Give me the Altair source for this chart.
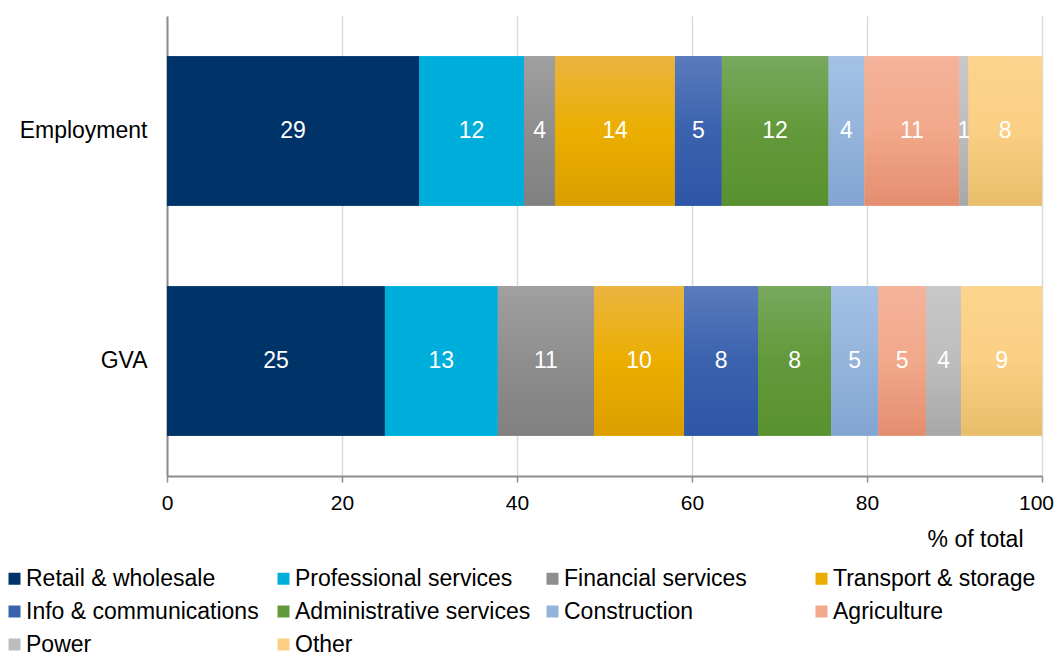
import altair as alt
import pandas as pd

sectors = ["Retail & wholesale", "Professional services", "Financial services", "Transport & storage",
           "Info & communications", "Administrative services", "Construction", "Agriculture", "Power", "Other"]
measures = ["Employment", "GVA"]
employment = [28.8, 12.0, 3.55, 13.7, 5.35, 12.2, 4.1, 10.85, 1.05, 8.4]
gva = [24.9, 12.9, 11.0, 10.3, 8.45, 8.35, 5.4, 5.45, 4.0, 9.25]
x_ticks = [0, 20, 40, 60, 80, 100]

colors_mid = ["#003468", "#00AEDB", "#8E8E8E", "#EBAE00", "#3A62AE", "#63993A", "#95B4DC", "#F2A88A", "#BDBDBD", "#FBCF84"]
colors_top = ["#003468", "#00AEDB", "#A0A0A0", "#EBB440", "#5A7BBD", "#78A85E", "#A4C1E5", "#F4B39A", "#C8C8C8", "#FDD48D"]
colors_bot = ["#003468", "#00AEDB", "#808080", "#DC9E00", "#2D56A6", "#5A9130", "#82A5D2", "#E48D70", "#A8A8A8", "#E8BD6A"]

FONT = "Liberation Sans"

rows = []
for m, vals in zip(measures, [employment, gva]):
    for i, (s, v) in enumerate(zip(sectors, vals)):
        rows.append({"measure": m, "sector": s, "value": v, "order": i})
df = pd.DataFrame(rows)

base = alt.Chart(df).transform_stack(
    stack="value", groupby=["measure"], as_=["x0", "x1"],
    sort=[alt.SortField("order", order="ascending")]
)

x_scale = alt.Scale(domain=[0, 100], nice=False)
y_scale = alt.Scale(domain=measures, paddingInner=0.35, paddingOuter=0.175)

x_axis = alt.Axis(
    values=x_ticks, format="d", title="% of total",
    titleFont=FONT, titleFontSize=23, titleFontWeight="normal", titleColor="black",
    titleX=856, titleY=70, titleAlign="right", titleBaseline="alphabetic", titleAnchor="end",
    labelFont=FONT, labelFontSize=21, labelColor="black", labelPadding=10, labelFlush=False,
    labelOffset={"condition": {"test": "datum.value === 100", "value": -6}, "value": 0},
    tickSize=6, tickColor="#8C8C8C", tickWidth=1.5,
    domainColor="#8C8C8C", domainWidth=2, gridColor="#D9D9D9", gridWidth=1.5,
)
y_axis = alt.Axis(
    title=None, labelFont=FONT, labelFontSize=23, labelColor="black",
    ticks=False, tickSize=0, labelPadding=20, domainColor="#8C8C8C", domainWidth=2, grid=False,
)

legend = alt.Legend(
    title=None, orient="none", legendX=-164, legendY=551, columns=4, direction="horizontal",
    symbolType="square", symbolSize=144, symbolStrokeWidth=0, symbolOpacity=1,
    labelFont=FONT, labelFontSize=23, labelColor="black", labelLimit=400, labelOffset=0,
    columnPadding=10, rowPadding=9, gridAlign="all",
)

legend_layer = base.mark_bar(strokeWidth=0).encode(
    x=alt.X("x0:Q", scale=x_scale, axis=x_axis),
    x2="x1:Q",
    y=alt.Y("measure:N", scale=y_scale, axis=y_axis, sort=measures),
    color=alt.Color("sector:N", scale=alt.Scale(domain=sectors, range=colors_mid), legend=legend),
)

grad_layers = []
for s, top, mid, bot in zip(sectors, colors_top, colors_mid, colors_bot):
    g = alt.LinearGradient(
        gradient="linear", x1=0, y1=0, x2=0, y2=1,
        stops=[alt.GradientStop(offset=0, color=top),
               alt.GradientStop(offset=0.5, color=mid),
               alt.GradientStop(offset=1, color=bot)],
    )
    layer = base.transform_filter(alt.datum.sector == s).mark_bar(color=g, strokeWidth=0).encode(
        x=alt.X("x0:Q", scale=x_scale, axis=x_axis),
        x2="x1:Q",
        y=alt.Y("measure:N", scale=y_scale, axis=y_axis, sort=measures),
    )
    grad_layers.append(layer)

text_layer = base.transform_calculate(mid="(datum.x0 + datum.x1) / 2").mark_text(
    color="white", font=FONT, fontSize=23, align="center", baseline="middle"
).encode(
    x=alt.X("mid:Q", scale=x_scale, axis=x_axis),
    y=alt.Y("measure:N", scale=y_scale, axis=y_axis, sort=measures),
    text=alt.Text("value:Q", format=".0f"),
)

chart = alt.layer(legend_layer, *grad_layers, text_layer).properties(
    width=875, height=460,
    autosize=alt.AutoSizeParams(type="none"),
    padding={"left": 159, "top": 8, "right": 13, "bottom": 182},
).configure_view(stroke=None)

chart.save("out.html", embed_options={"renderer": "svg", "actions": False})
